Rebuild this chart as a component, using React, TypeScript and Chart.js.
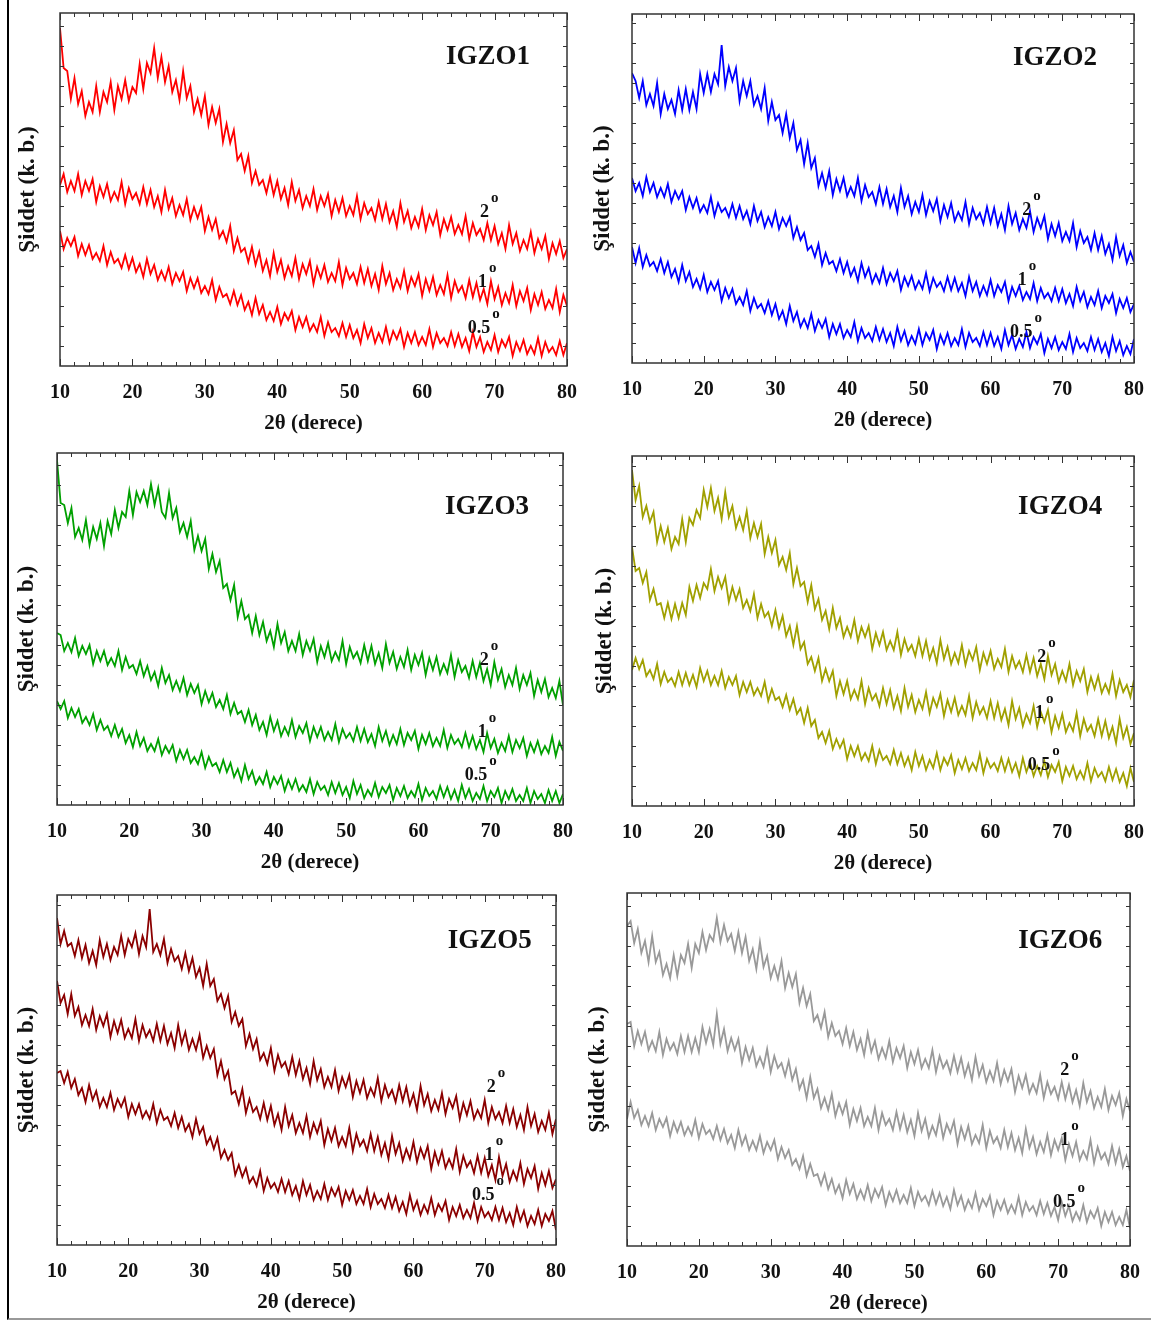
import React, { useEffect, useRef } from "react";
import { Chart, registerables } from "chart.js";

Chart.register(...registerables);

// ---------- data ----------
const TWO_THETA: number[] = Array.from({ length: 141 }, (_, i) => 10 + i * 0.5);
const X_TICK_STEP = 10;
const CURVE_LABELS = ["2", "1", "0.5"];
const DEGREE_MARK = "o";
const Y_TITLE = "Şiddet (k. b.)";
const X_TITLE = "2θ (derece)";
const SAMPLE_NAMES = ["IGZO1", "IGZO2", "IGZO3", "IGZO4", "IGZO5", "IGZO6"];

const IGZO1_2 = [
  338, 298, 295, 267, 288, 262, 275, 250, 264, 254,
  280, 254, 274, 264, 284, 256, 280, 267, 286, 265,
  279, 273, 302, 277, 303, 293, 318, 288, 309, 284,
  300, 274, 286, 266, 295, 268, 280, 254, 267, 251,
  270, 241, 259, 243, 257, 224, 242, 223, 236, 206,
  212, 195, 210, 183, 195, 181, 186, 173, 189, 171,
  185, 167, 178, 161, 184, 165, 176, 158, 170, 160,
  177, 156, 170, 160, 172, 150, 166, 154, 168, 150,
  160, 151, 170, 147, 163, 152, 158, 146, 164, 147,
  162, 144, 155, 139, 163, 144, 155, 138, 149, 139,
  157, 136, 151, 141, 154, 131, 147, 136, 149, 132,
  141, 132, 150, 127, 143, 131, 137, 126, 143, 126,
  140, 122, 133, 117, 141, 122, 133, 115, 126, 117,
  134, 113, 127, 117, 130, 107, 123, 112, 125, 108,
  117,
];
const IGZO1_1 = [
  181, 192, 174, 185, 175, 192, 171, 185, 175, 187,
  164, 180, 169, 182, 165, 174, 166, 184, 162, 178,
  167, 173, 162, 179, 162, 176, 159, 170, 154, 176,
  157, 168, 150, 161, 151, 167, 146, 159, 148, 159,
  135, 149, 136, 147, 128, 135, 124, 140, 115, 128,
  114, 118, 104, 119, 101, 114, 95, 106, 90, 113,
  94, 106, 88, 100, 90, 108, 87, 102, 92, 105,
  82, 99, 88, 101, 84, 93, 85, 104, 81, 98,
  87, 93, 82, 99, 83, 97, 80, 92, 76, 100,
  82, 93, 76, 87, 78, 95, 75, 89, 80, 92,
  70, 87, 75, 89, 71, 81, 72, 91, 68, 85,
  74, 80, 68, 86, 69, 83, 66, 77, 62, 85,
  67, 79, 61, 73, 63, 81, 60, 75, 65, 78,
  56, 72, 61, 74, 57, 66, 58, 77, 54, 71,
  60,
];
const IGZO1_05 = [
  135, 117, 128, 120, 129, 110, 122, 111, 121, 107,
  113, 105, 120, 101, 114, 103, 107, 98, 111, 97,
  108, 94, 102, 89, 107, 92, 101, 86, 95, 86,
  99, 82, 93, 85, 94, 75, 88, 78, 88, 73,
  80, 72, 86, 66, 79, 69, 72, 62, 75, 61,
  71, 56, 64, 51, 68, 52, 61, 46, 54, 45,
  59, 42, 53, 46, 55, 36, 49, 39, 49, 35,
  42, 34, 49, 30, 44, 34, 38, 30, 43, 29,
  41, 28, 36, 23, 42, 28, 38, 23, 33, 24,
  39, 23, 35, 27, 37, 19, 33, 23, 34, 21,
  29, 21, 37, 19, 33, 23, 28, 20, 34, 20,
  32, 19, 28, 15, 34, 19, 29, 14, 24, 16,
  31, 14, 26, 19, 29, 10, 24, 15, 26, 12,
  20, 12, 28, 10, 24, 14, 19, 11, 25, 11,
  23,
];

const IGZO2_2 = [
  290, 282, 265, 282, 258, 269, 257, 280, 249, 269,
  254, 263, 249, 273, 253, 274, 253, 271, 254, 289,
  270, 289, 271, 289, 279, 318, 277, 296, 282, 295,
  262, 282, 267, 282, 258, 267, 254, 275, 242, 261,
  243, 248, 230, 249, 225, 240, 213, 223, 199, 220,
  195, 205, 177, 190, 175, 192, 168, 184, 172, 185,
  167, 176, 167, 185, 162, 178, 166, 171, 159, 176,
  159, 174, 156, 167, 151, 175, 156, 167, 149, 161,
  151, 168, 148, 162, 152, 164, 142, 158, 146, 160,
  142, 151, 143, 161, 139, 155, 144, 150, 139, 156,
  140, 155, 137, 149, 133, 157, 139, 150, 133, 144,
  135, 152, 131, 145, 135, 147, 124, 139, 127, 140,
  122, 131, 122, 140, 116, 132, 120, 126, 113, 130,
  113, 127, 109, 119, 103, 126, 107, 118, 100, 111,
  101,
];
const IGZO2_1 = [
  185, 172, 180, 167, 186, 171, 180, 166, 175, 166,
  179, 161, 172, 164, 172, 153, 166, 155, 165, 151,
  158, 150, 166, 147, 160, 151, 155, 146, 159, 145,
  157, 144, 152, 139, 157, 142, 151, 136, 146, 137,
  151, 134, 145, 137, 146, 125, 136, 123, 130, 113,
  117, 106, 119, 98, 110, 99, 102, 92, 104, 90,
  101, 87, 95, 82, 100, 86, 95, 80, 89, 80,
  95, 79, 90, 82, 92, 73, 86, 77, 87, 74,
  82, 74, 90, 72, 85, 76, 81, 72, 86, 73,
  85, 72, 80, 67, 86, 72, 81, 67, 77, 68,
  83, 67, 78, 71, 81, 62, 76, 67, 77, 63,
  71, 64, 80, 62, 75, 65, 70, 62, 75, 62,
  74, 60, 69, 57, 76, 62, 71, 56, 66, 58,
  72, 55, 67, 60, 69, 50, 64, 55, 65, 51,
  59,
];
const IGZO2_05 = [
  116, 100, 115, 96, 108, 97, 101, 92, 104, 90,
  101, 86, 94, 81, 98, 82, 91, 76, 84, 74,
  88, 71, 81, 73, 82, 62, 75, 65, 74, 59,
  66, 58, 72, 52, 65, 55, 59, 50, 62, 48,
  59, 44, 52, 39, 57, 42, 51, 36, 44, 35,
  49, 32, 43, 35, 44, 26, 39, 29, 39, 25,
  33, 26, 41, 22, 35, 25, 30, 22, 36, 23,
  34, 21, 30, 17, 36, 22, 32, 18, 27, 19,
  34, 18, 30, 23, 33, 14, 28, 19, 30, 17,
  25, 18, 34, 16, 30, 21, 25, 17, 31, 18,
  30, 17, 26, 14, 33, 18, 28, 14, 24, 16,
  31, 15, 26, 19, 29, 10, 24, 15, 26, 13,
  21, 14, 29, 11, 25, 15, 20, 12, 26, 13,
  24, 11, 20, 7, 26, 12, 22, 8, 17, 9,
  24,
];

const IGZO3_2 = [
  345, 302, 300, 282, 297, 268, 277, 265, 285, 260,
  278, 266, 282, 259, 284, 271, 295, 277, 293, 288,
  314, 290, 313, 303, 314, 300, 321, 300, 317, 293,
  287, 312, 287, 297, 273, 282, 268, 284, 255, 269,
  254, 266, 236, 251, 233, 244, 217, 221, 205, 220,
  188, 204, 186, 190, 172, 189, 170, 183, 164, 174,
  158, 181, 162, 173, 154, 164, 154, 171, 150, 164,
  154, 166, 143, 159, 148, 162, 144, 153, 145, 164,
  141, 158, 147, 153, 142, 160, 144, 159, 141, 152,
  137, 161, 142, 153, 136, 148, 138, 155, 135, 150,
  140, 152, 130, 147, 135, 148, 131, 141, 132, 150,
  128, 145, 133, 139, 127, 144, 128, 142, 124, 136,
  120, 143, 125, 136, 118, 130, 120, 137, 116, 130,
  120, 132, 109, 125, 113, 126, 108, 117, 107, 124,
  100,
];
const IGZO3_1 = [
  172, 170, 154, 162, 153, 167, 149, 159, 151, 160,
  141, 154, 144, 154, 140, 147, 139, 154, 135, 148,
  137, 140, 131, 144, 129, 139, 125, 133, 119, 137,
  122, 130, 115, 124, 114, 127, 110, 121, 112, 120,
  101, 114, 103, 112, 98, 105, 96, 110, 91, 102,
  91, 94, 83, 95, 80, 90, 75, 83, 70, 88,
  74, 84, 69, 78, 70, 85, 68, 79, 72, 82,
  64, 78, 68, 78, 65, 73, 65, 81, 63, 76,
  67, 72, 64, 78, 64, 76, 63, 71, 59, 78,
  64, 74, 60, 70, 61, 76, 60, 72, 65, 74,
  56, 70, 61, 72, 59, 67, 59, 75, 57, 70,
  61, 66, 58, 72, 58, 69, 56, 65, 53, 72,
  57, 66, 52, 62, 54, 69, 53, 65, 57, 67,
  49, 62, 53, 64, 51, 59, 52, 68, 49, 63,
  54,
];
const IGZO3_05 = [
  104, 96, 104, 87, 97, 88, 96, 82, 88, 80,
  91, 75, 85, 75, 79, 69, 80, 68, 76, 62,
  70, 58, 73, 59, 67, 54, 61, 54, 66, 50,
  59, 52, 60, 44, 55, 46, 55, 42, 48, 41,
  53, 37, 48, 39, 42, 33, 45, 33, 42, 28,
  36, 24, 40, 26, 34, 21, 28, 21, 33, 18,
  28, 21, 29, 14, 25, 16, 26, 14, 20, 13,
  26, 11, 23, 15, 19, 10, 23, 12, 22, 10,
  18, 7, 24, 11, 20, 7, 15, 9, 22, 8,
  18, 12, 20, 5, 17, 9, 19, 7, 14, 8,
  21, 5, 17, 9, 14, 6, 19, 8, 18, 6,
  15, 4, 20, 7, 16, 4, 12, 6, 19, 4,
  14, 8, 17, 2, 14, 6, 16, 4, 10, 4,
  17, 2, 14, 6, 11, 2, 15, 4, 14, 2,
  11,
];

const IGZO4_2 = [
  336, 306, 320, 289, 300, 284, 294, 264, 280, 264,
  278, 257, 269, 262, 287, 264, 288, 281, 296, 288,
  316, 299, 318, 295, 308, 287, 314, 289, 300, 278,
  289, 276, 295, 268, 283, 269, 282, 252, 269, 253,
  266, 241, 249, 236, 253, 222, 238, 220, 224, 204,
  221, 197, 207, 186, 195, 177, 198, 178, 188, 169,
  179, 169, 186, 165, 179, 169, 180, 157, 173, 161,
  174, 156, 165, 156, 174, 151, 167, 155, 161, 150,
  167, 150, 165, 147, 158, 143, 166, 147, 159, 142,
  153, 143, 161, 141, 155, 146, 159, 136, 153, 142,
  155, 137, 147, 139, 157, 134, 150, 138, 145, 134,
  151, 134, 148, 130, 142, 127, 150, 131, 142, 124,
  135, 125, 142, 121, 135, 125, 137, 114, 129, 117,
  130, 113, 122, 113, 132, 110, 126, 114, 121, 109,
  126,
];
const IGZO4_1 = [
  259, 235, 238, 223, 234, 206, 217, 201, 203, 188,
  203, 187, 202, 188, 203, 191, 219, 205, 221, 208,
  223, 217, 237, 215, 229, 218, 229, 204, 219, 206,
  217, 198, 206, 195, 212, 188, 202, 189, 194, 180,
  196, 178, 190, 170, 180, 161, 180, 157, 164, 142,
  149, 135, 148, 125, 137, 125, 135, 110, 125, 112,
  125, 107, 116, 107, 125, 102, 118, 106, 112, 100,
  118, 102, 116, 98, 110, 95, 118, 99, 111, 94,
  106, 97, 114, 93, 108, 99, 112, 90, 106, 94,
  108, 91, 100, 91, 110, 88, 104, 92, 99, 88,
  105, 88, 103, 86, 97, 81, 105, 87, 98, 80,
  92, 83, 100, 79, 94, 84, 96, 74, 90, 78,
  92, 74, 83, 75, 93, 70, 87, 75, 81, 70,
  87, 70, 85, 68, 79, 63, 87, 68, 79, 62,
  73,
];
const IGZO4_05 = [
  136, 148, 137, 146, 130, 136, 127, 142, 122, 134,
  124, 128, 120, 134, 121, 133, 121, 131, 119, 138,
  125, 135, 121, 130, 121, 135, 118, 129, 121, 130,
  111, 124, 114, 124, 111, 118, 110, 124, 105, 117,
  106, 109, 99, 111, 96, 107, 92, 98, 83, 98,
  80, 86, 68, 74, 63, 75, 57, 67, 58, 66,
  47, 60, 50, 60, 46, 53, 45, 60, 42, 56,
  46, 50, 42, 56, 42, 53, 40, 49, 36, 54,
  40, 50, 36, 46, 38, 53, 36, 48, 41, 51,
  33, 46, 37, 48, 35, 43, 36, 52, 33, 47,
  38, 43, 35, 48, 35, 47, 34, 43, 30, 48,
  34, 44, 30, 40, 31, 45, 29, 41, 34, 44,
  25, 39, 30, 40, 27, 35, 27, 43, 25, 38,
  29, 34, 25, 39, 26, 37, 24, 33, 20, 38,
  24,
];

const IGZO5_2 = [
  327, 301, 314, 299, 302, 289, 305, 287, 300, 282,
  294, 280, 305, 288, 301, 285, 298, 290, 309, 290,
  306, 298, 312, 291, 309, 298, 336, 293, 301, 290,
  306, 282, 296, 284, 289, 276, 292, 274, 287, 268,
  277, 259, 281, 259, 266, 244, 251, 237, 249, 223,
  233, 219, 226, 199, 211, 196, 206, 185, 192, 181,
  197, 174, 190, 178, 183, 171, 188, 170, 184, 166,
  177, 161, 184, 165, 176, 158, 168, 158, 175, 154,
  168, 158, 170, 148, 164, 152, 165, 147, 157, 149,
  167, 144, 160, 148, 155, 143, 160, 144, 158, 140,
  151, 135, 159, 140, 151, 134, 145, 135, 152, 131,
  146, 137, 149, 126, 142, 130, 144, 126, 135, 127,
  145, 122, 138, 126, 133, 122, 139, 122, 136, 118,
  130, 115, 138, 119, 131, 113, 124, 115, 132, 111,
  126,
];
const IGZO5_1 = [
  264, 242, 250, 231, 251, 229, 238, 220, 230, 219,
  236, 215, 229, 219, 231, 208, 224, 212, 225, 207,
  216, 207, 226, 204, 220, 208, 215, 204, 221, 204,
  219, 201, 212, 197, 220, 201, 213, 195, 206, 195,
  210, 187, 199, 187, 196, 170, 184, 166, 174, 151,
  154, 141, 156, 132, 146, 133, 138, 126, 142, 125,
  139, 120, 131, 115, 138, 119, 130, 112, 122, 112,
  129, 108, 122, 112, 124, 100, 116, 104, 117, 99,
  108, 99, 117, 94, 111, 99, 105, 94, 111, 94,
  108, 90, 102, 86, 109, 91, 102, 84, 96, 86,
  103, 83, 97, 87, 99, 76, 93, 81, 94, 77,
  86, 77, 96, 73, 89, 78, 84, 72, 89, 72,
  87, 69, 80, 65, 88, 69, 81, 63, 74, 65,
  82, 61, 76, 67, 79, 56, 72, 60, 74, 57,
  66,
];
const IGZO5_05 = [
  172, 174, 162, 173, 157, 166, 150, 157, 143, 160,
  145, 154, 138, 147, 138, 152, 135, 146, 138, 147,
  128, 141, 131, 141, 127, 134, 126, 141, 122, 135,
  125, 128, 119, 132, 117, 128, 114, 121, 108, 126,
  111, 118, 101, 108, 96, 107, 87, 95, 85, 92,
  70, 80, 68, 77, 62, 68, 59, 74, 54, 67,
  57, 62, 53, 66, 53, 64, 50, 59, 46, 64,
  50, 60, 45, 54, 46, 61, 45, 57, 49, 58,
  40, 54, 45, 55, 41, 49, 41, 56, 38, 51,
  41, 46, 37, 50, 37, 48, 34, 43, 31, 50,
  35, 44, 30, 40, 32, 47, 30, 41, 34, 44,
  25, 38, 29, 40, 27, 35, 27, 42, 24, 38,
  28, 33, 25, 38, 25, 37, 23, 32, 20, 38,
  24, 34, 19, 29, 21, 35, 19, 31, 24, 34,
  15,
];

const IGZO6_2 = [
  320, 325, 303, 317, 293, 305, 284, 310, 284, 294,
  271, 282, 268, 291, 270, 291, 283, 302, 278, 302,
  293, 314, 296, 311, 305, 328, 304, 321, 305, 312,
  295, 314, 293, 309, 285, 297, 277, 304, 279, 290,
  268, 280, 267, 285, 258, 273, 259, 272, 243, 258,
  240, 252, 225, 231, 218, 234, 209, 223, 210, 215,
  202, 218, 200, 214, 196, 207, 191, 213, 194, 205,
  187, 198, 188, 205, 184, 198, 188, 200, 178, 194,
  182, 196, 178, 187, 178, 196, 174, 190, 178, 185,
  173, 190, 174, 188, 170, 182, 166, 189, 170, 181,
  164, 175, 165, 183, 162, 176, 165, 177, 154, 170,
  158, 171, 153, 162, 153, 171, 148, 164, 152, 159,
  147, 164, 147, 161, 144, 156, 140, 163, 144, 155,
  138, 149, 139, 157, 136, 150, 141, 153, 130, 147,
  135,
];
const IGZO6_1 = [
  222, 224, 200, 215, 202, 214, 196, 205, 195, 214,
  191, 207, 196, 203, 192, 210, 194, 210, 194, 208,
  194, 219, 203, 217, 201, 232, 202, 217, 195, 208,
  196, 207, 183, 199, 186, 198, 180, 189, 179, 197,
  174, 190, 178, 183, 170, 185, 166, 177, 157, 166,
  148, 169, 148, 157, 138, 148, 136, 152, 130, 143,
  132, 144, 121, 137, 125, 138, 120, 129, 120, 138,
  116, 133, 121, 127, 116, 134, 117, 131, 114, 126,
  110, 133, 115, 127, 109, 120, 111, 129, 108, 122,
  113, 125, 102, 119, 107, 120, 102, 111, 103, 121,
  98, 115, 103, 109, 98, 116, 99, 113, 96, 108,
  93, 117, 98, 109, 92, 104, 94, 111, 91, 106,
  96, 108, 86, 102, 90, 104, 86, 95, 87, 106,
  83, 99, 87, 93, 82, 100, 83, 97, 79, 90,
  75,
];
const IGZO6_05 = [
  127, 144, 128, 136, 121, 130, 120, 133, 116, 127,
  119, 128, 110, 124, 114, 124, 111, 119, 111, 126,
  108, 122, 112, 116, 107, 120, 106, 117, 103, 111,
  98, 116, 101, 110, 96, 105, 96, 110, 93, 104,
  96, 106, 87, 99, 88, 96, 81, 87, 77, 90,
  70, 82, 70, 72, 61, 72, 57, 67, 53, 61,
  48, 66, 52, 62, 47, 56, 47, 61, 45, 57,
  49, 59, 41, 54, 45, 56, 43, 51, 43, 58,
  40, 54, 45, 50, 41, 55, 42, 53, 40, 49,
  37, 56, 41, 50, 36, 46, 38, 53, 36, 47,
  40, 50, 31, 45, 36, 46, 33, 41, 33, 49,
  31, 44, 35, 40, 31, 45, 32, 43, 30, 39,
  26, 44, 30, 40, 25, 34, 26, 41, 24, 35,
  28, 38, 20, 34, 24, 34, 21, 29, 21, 36,
  18,
];

// ---------- layout / style ----------
const SERIF = "'Liberation Serif', 'DejaVu Serif', serif";
const TEXT_COLOR = "#111111";
const FRAME_COLOR = "#333333";
const PAD_L = 60;
const PAD_T = 12;
const PAD_R = 25;
const PAD_B = 75;
const Y_TITLE_SIZE = 23;

type PanelCfg = {
  name: string;
  series: number[][];
  color: string;
  box: [number, number, number, number];
  yMax: number;
  titleAt: [number, number];
  labelAt: [number, number][];
  yTitleGap: number;
};

const PANELS: PanelCfg[] = [
  { name: SAMPLE_NAMES[0], series: [IGZO1_2, IGZO1_1, IGZO1_05], color: "#ff0000", box: [60, 13, 567, 366], yMax: 353, titleAt: [69.1, 309], labelAt: [[68.0, 149], [67.7, 79], [66.3, 33]], yTitleGap: 32 },
  { name: SAMPLE_NAMES[1], series: [IGZO2_2, IGZO2_1, IGZO2_05], color: "#0000ff", box: [632, 14, 1134, 363], yMax: 349, titleAt: [69.0, 305], labelAt: [[64.4, 148], [63.8, 78], [62.7, 26]], yTitleGap: 29 },
  { name: SAMPLE_NAMES[2], series: [IGZO3_2, IGZO3_1, IGZO3_05], color: "#00a000", box: [57, 453, 563, 805], yMax: 352, titleAt: [69.5, 298], labelAt: [[68.5, 140], [68.2, 68], [66.4, 25]], yTitleGap: 30 },
  { name: SAMPLE_NAMES[3], series: [IGZO4_2, IGZO4_1, IGZO4_05], color: "#a0a000", box: [632, 456, 1134, 806], yMax: 350, titleAt: [69.7, 299], labelAt: [[66.5, 144], [66.2, 88], [65.2, 36]], yTitleGap: 27 },
  { name: SAMPLE_NAMES[4], series: [IGZO5_2, IGZO5_1, IGZO5_05], color: "#8b0000", box: [57, 895, 556, 1245], yMax: 350, titleAt: [70.7, 304], labelAt: [[70.3, 153], [70.0, 85], [68.2, 45]], yTitleGap: 30 },
  { name: SAMPLE_NAMES[5], series: [IGZO6_2, IGZO6_1, IGZO6_05], color: "#999999", box: [627, 893, 1130, 1246], yMax: 353, titleAt: [70.3, 305], labelAt: [[70.3, 171], [70.3, 101], [69.3, 39]], yTitleGap: 29 },
];

function framePlugin(p: PanelCfg) {
  return {
    id: "frameAndText",
    afterDatasetsDraw(chart: any) {
      const { ctx, chartArea: a } = chart;
      const xs = chart.scales.x;
      const ys = chart.scales.y;
      ctx.save();
      ctx.strokeStyle = FRAME_COLOR;
      ctx.lineWidth = 1.5;
      ctx.strokeRect(a.left, a.top, a.right - a.left, a.bottom - a.top);
      ctx.lineWidth = 1;
      ctx.beginPath();
      for (let v = 10; v <= 80; v += 2) {
        const px = Math.round(xs.getPixelForValue(v)) + 0.5;
        const len = v % 10 === 0 ? 7 : 4;
        ctx.moveTo(px, a.bottom);
        ctx.lineTo(px, a.bottom - len);
        ctx.moveTo(px, a.top);
        ctx.lineTo(px, a.top + len);
      }
      for (let v = 20; v < p.yMax; v += 20) {
        const py = Math.round(ys.getPixelForValue(v)) + 0.5;
        ctx.moveTo(a.left, py);
        ctx.lineTo(a.left + 4, py);
        ctx.moveTo(a.right, py);
        ctx.lineTo(a.right - 4, py);
      }
      ctx.stroke();

      ctx.fillStyle = TEXT_COLOR;
      ctx.font = `bold 27px ${SERIF}`;
      ctx.textAlign = "center";
      ctx.textBaseline = "middle";
      ctx.fillText(p.name, xs.getPixelForValue(p.titleAt[0]), ys.getPixelForValue(p.titleAt[1]));

      ctx.textAlign = "left";
      ctx.textBaseline = "alphabetic";
      p.labelAt.forEach(([lx, ly], k) => {
        const x0 = xs.getPixelForValue(lx);
        const y0 = ys.getPixelForValue(ly);
        ctx.font = `bold 18px ${SERIF}`;
        ctx.fillText(CURVE_LABELS[k], x0, y0);
        const w = ctx.measureText(CURVE_LABELS[k]).width;
        ctx.font = `bold 15px ${SERIF}`;
        ctx.fillText(DEGREE_MARK, x0 + w + 2, y0 - 15);
      });
      ctx.restore();
    },
  };
}

function XrdPanel({ p }: { p: PanelCfg }) {
  const ref = useRef<HTMLCanvasElement | null>(null);
  const [l, t, r, b] = p.box;
  const w = r - l + PAD_L + PAD_R;
  const h = b - t + PAD_T + PAD_B;

  useEffect(() => {
    if (!ref.current) return;
    const chart = new Chart(ref.current, {
      type: "line",
      data: {
        datasets: p.series.map((s, k) => ({
          label: CURVE_LABELS[k],
          data: s.map((v, i) => ({ x: TWO_THETA[i], y: v })),
          borderColor: p.color,
          borderWidth: 1.8,
          pointRadius: 0,
          tension: 0,
          fill: false,
        })),
      },
      options: {
        responsive: false,
        animation: false,
        devicePixelRatio: 1,
        layout: { padding: { left: 0, top: PAD_T, right: PAD_R, bottom: 0 } },
        plugins: { legend: { display: false }, tooltip: { enabled: false } },
        scales: {
          x: {
            type: "linear",
            min: 10,
            max: 80,
            grid: { display: false, drawTicks: false },
            border: { display: false },
            ticks: {
              stepSize: X_TICK_STEP,
              padding: 15,
              color: TEXT_COLOR,
              maxRotation: 0,
              autoSkip: false,
              font: { family: SERIF, size: 20, weight: "bold" },
            },
            title: {
              display: true,
              text: X_TITLE,
              color: TEXT_COLOR,
              font: { family: SERIF, size: 21, weight: "bold" },
              padding: { top: 0, bottom: 5 },
            },
            afterFit: (s: any) => {
              s.height = PAD_B;
            },
          },
          y: {
            type: "linear",
            min: 0,
            max: p.yMax,
            grid: { display: false, drawTicks: false },
            border: { display: false },
            ticks: { display: false },
            title: {
              display: true,
              text: Y_TITLE,
              color: TEXT_COLOR,
              font: { family: SERIF, size: Y_TITLE_SIZE, weight: "bold" },
              padding: { top: PAD_L - p.yTitleGap - 14, bottom: 0 },
            },
            afterFit: (s: any) => {
              s.width = PAD_L;
            },
          },
        },
      } as any,
      plugins: [framePlugin(p)],
    });
    return () => chart.destroy();
  }, [p]);

  return (
    <canvas
      ref={ref}
      width={w}
      height={h}
      style={{ position: "absolute", left: l - PAD_L, top: t - PAD_T, width: w, height: h, display: "block" }}
    />
  );
}

export default function App() {
  return (
    <div style={{ position: "absolute", left: 0, top: 0, width: 1151, height: 1321, background: "#ffffff", overflow: "hidden" }}>
      {PANELS.map((p) => (
        <XrdPanel key={p.name} p={p} />
      ))}
      <div
        style={{
          position: "absolute",
          left: 7,
          top: 0,
          width: 1144,
          height: 1318,
          borderLeft: "2px solid #000000",
          borderBottom: "2px solid #999999",
          pointerEvents: "none",
        }}
      />
    </div>
  );
}
